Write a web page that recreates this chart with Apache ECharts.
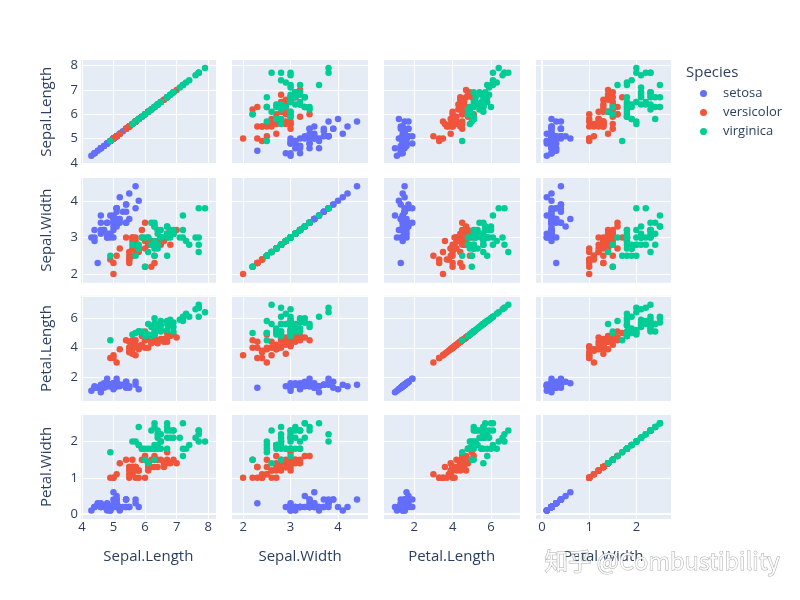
<!DOCTYPE html>
<html>
<head>
<meta charset="utf-8">
<script src="https://cdn.jsdelivr.net/npm/echarts@6/dist/echarts.min.js"></script>
<style>
  html, body { margin: 0; padding: 0; background: #fff; }
  #main { width: 800px; height: 600px; }
</style>
</head>
<body>
<div id="main"></div>
<script>
// iris 数据, 按品种分开
var dims = ['Sepal.Length', 'Sepal.Width', 'Petal.Length', 'Petal.Width'];
var speciesNames = ['setosa', 'versicolor', 'virginica'];

var setosaSL = [5.1,4.9,4.7,4.6,5.0,5.4,4.6,5.0,4.4,4.9,5.4,4.8,4.8,4.3,5.8,5.7,5.4,5.1,5.7,5.1,5.4,5.1,4.6,5.1,4.8,5.0,5.0,5.2,5.2,4.7,4.8,5.4,5.2,5.5,4.9,5.0,5.5,4.9,4.4,5.1,5.0,4.5,4.4,5.0,5.1,4.8,5.1,4.6,5.3,5.0];
var setosaSW = [3.5,3.0,3.2,3.1,3.6,3.9,3.4,3.4,2.9,3.1,3.7,3.4,3.0,3.0,4.0,4.4,3.9,3.5,3.8,3.8,3.4,3.7,3.6,3.3,3.4,3.0,3.4,3.5,3.4,3.2,3.1,3.4,4.1,4.2,3.1,3.2,3.5,3.6,3.0,3.4,3.5,2.3,3.2,3.5,3.8,3.0,3.8,3.2,3.7,3.3];
var setosaPL = [1.4,1.4,1.3,1.5,1.4,1.7,1.4,1.5,1.4,1.5,1.5,1.6,1.4,1.1,1.2,1.5,1.3,1.4,1.7,1.5,1.7,1.5,1.0,1.7,1.9,1.6,1.6,1.5,1.4,1.6,1.6,1.5,1.5,1.4,1.5,1.2,1.3,1.4,1.3,1.5,1.3,1.3,1.3,1.6,1.9,1.4,1.6,1.4,1.5,1.4];
var setosaPW = [0.2,0.2,0.2,0.2,0.2,0.4,0.3,0.2,0.2,0.1,0.2,0.2,0.1,0.1,0.2,0.4,0.4,0.3,0.3,0.3,0.2,0.4,0.2,0.5,0.2,0.2,0.4,0.2,0.2,0.2,0.2,0.4,0.1,0.2,0.2,0.2,0.2,0.1,0.2,0.2,0.3,0.3,0.2,0.6,0.4,0.3,0.2,0.2,0.2,0.2];

var versicolorSL = [7.0,6.4,6.9,5.5,6.5,5.7,6.3,4.9,6.6,5.2,5.0,5.9,6.0,6.1,5.6,6.7,5.6,5.8,6.2,5.6,5.9,6.1,6.3,6.1,6.4,6.6,6.8,6.7,6.0,5.7,5.5,5.5,5.8,6.0,5.4,6.0,6.7,6.3,5.6,5.5,5.5,6.1,5.8,5.0,5.6,5.7,5.7,6.2,5.1,5.7];
var versicolorSW = [3.2,3.2,3.1,2.3,2.8,2.8,3.3,2.4,2.9,2.7,2.0,3.0,2.2,2.9,2.9,3.1,3.0,2.7,2.2,2.5,3.2,2.8,2.5,2.8,2.9,3.0,2.8,3.0,2.9,2.6,2.4,2.4,2.7,2.7,3.0,3.4,3.1,2.3,3.0,2.5,2.6,3.0,2.6,2.3,2.7,3.0,2.9,2.9,2.5,2.8];
var versicolorPL = [4.7,4.5,4.9,4.0,4.6,4.5,4.7,3.3,4.6,3.9,3.5,4.2,4.0,4.7,3.6,4.4,4.5,4.1,4.5,3.9,4.8,4.0,4.9,4.7,4.3,4.4,4.8,5.0,4.5,3.5,3.8,3.7,3.9,5.1,4.5,4.5,4.7,4.4,4.1,4.0,4.4,4.6,4.0,3.3,4.2,4.2,4.2,4.3,3.0,4.1];
var versicolorPW = [1.4,1.5,1.5,1.3,1.5,1.3,1.6,1.0,1.3,1.4,1.0,1.5,1.0,1.4,1.3,1.4,1.5,1.0,1.5,1.1,1.8,1.3,1.5,1.2,1.3,1.4,1.4,1.7,1.5,1.0,1.1,1.0,1.2,1.6,1.5,1.6,1.5,1.3,1.3,1.3,1.2,1.4,1.2,1.0,1.3,1.2,1.3,1.3,1.1,1.3];

var virginicaSL = [6.3,5.8,7.1,6.3,6.5,7.6,4.9,7.3,6.7,7.2,6.5,6.4,6.8,5.7,5.8,6.4,6.5,7.7,7.7,6.0,6.9,5.6,7.7,6.3,6.7,7.2,6.2,6.1,6.4,7.2,7.4,7.9,6.4,6.3,6.1,7.7,6.3,6.4,6.0,6.9,6.7,6.9,5.8,6.8,6.7,6.7,6.3,6.5,6.2,5.9];
var virginicaSW = [3.3,2.7,3.0,2.9,3.0,3.0,2.5,2.9,2.5,3.6,3.2,2.7,3.0,2.5,2.8,3.2,3.0,3.8,2.6,2.2,3.2,2.8,2.8,2.7,3.3,3.2,2.8,3.0,2.8,3.0,2.8,3.8,2.8,2.8,2.6,3.0,3.4,3.1,3.0,3.1,3.1,3.1,2.7,3.2,3.3,3.0,2.5,3.0,3.4,3.0];
var virginicaPL = [6.0,5.1,5.9,5.6,5.8,6.6,4.5,6.3,5.8,6.1,5.1,5.3,5.5,5.0,5.1,5.3,5.5,6.7,6.9,5.0,5.7,4.9,6.7,4.9,5.7,6.0,4.8,4.9,5.6,5.8,6.1,6.4,5.6,5.1,5.6,6.1,5.6,5.5,4.8,5.4,5.6,5.1,5.1,5.9,5.7,5.2,5.0,5.2,5.4,5.1];
var virginicaPW = [2.5,1.9,2.1,1.8,2.2,2.1,1.7,1.8,1.8,2.5,2.0,1.9,2.1,2.0,2.4,2.3,1.8,2.2,2.3,1.5,2.3,2.0,2.0,1.8,2.1,1.8,1.8,1.8,2.1,1.6,1.9,2.0,2.2,1.5,1.4,2.3,2.4,1.8,1.8,2.1,2.4,2.3,1.9,2.3,2.5,2.3,1.9,2.0,2.3,1.8];

// 刻度标签
var ticksSL = [4, 5, 6, 7, 8];
var ticksSW = [2, 3, 4];
var ticksPL = [2, 4, 6];
var ticksPW = [0, 1, 2];

var speciesData = [
    [setosaSL, setosaSW, setosaPL, setosaPW],
    [versicolorSL, versicolorSW, versicolorPL, versicolorPW],
    [virginicaSL, virginicaSW, virginicaPL, virginicaPW]
];
var dimTicks = [ticksSL, ticksSW, ticksPL, ticksPW];
// 坐标范围 (带 plotly 那样的留白)
var dimRange = [[3.94, 8.27], [1.76, 4.64], [0.39, 7.51], [-0.15, 2.75]];
var dimStep = [1, 1, 2, 1];
var colors = ['#636efa', '#EF553B', '#00cc96'];

var colLeft = [80, 231.7, 383.3, 535];
var rowTop = [59, 177.4, 295.8, 414.2];
var cellW = 136.7, cellH = 105.4;
var tickColor = '#2a3f5f';
var fontFamily = '"Open Sans", "Noto Sans", sans-serif';

var grids = [], xAxes = [], yAxes = [], series = [];

function tickFormatter(d) {
    return function (v) {
        var list = dimTicks[d];
        for (var i = 0; i < list.length; i++) {
            if (Math.abs(list[i] - v) < 1e-6) return String(list[i]);
        }
        return '';
    };
}

for (var r = 0; r < 4; r++) {
    for (var c = 0; c < 4; c++) {
        var gi = r * 4 + c;
        grids.push({
            left: colLeft[c], top: rowTop[r], width: cellW, height: cellH,
            show: true, backgroundColor: '#E5ECF6', borderWidth: 0
        });
        xAxes.push({
            type: 'value', gridIndex: gi,
            min: dimRange[c][0], max: dimRange[c][1],
            minInterval: dimStep[c], maxInterval: dimStep[c],
            name: r === 3 ? dims[c] : '',
            nameLocation: 'middle', nameGap: 30,
            nameTextStyle: { color: tickColor, fontSize: 15, fontFamily: fontFamily },
            axisLine: { show: r === 3, onZero: true, lineStyle: { color: '#fff', width: 2 } },
            axisTick: { show: false },
            axisLabel: { show: r === 3, margin: 1, color: tickColor, fontSize: 13, fontFamily: fontFamily, formatter: tickFormatter(c) },
            splitLine: { show: true, lineStyle: { color: '#fff', width: 1 } }
        });
        yAxes.push({
            type: 'value', gridIndex: gi,
            min: dimRange[r][0], max: dimRange[r][1],
            minInterval: dimStep[r], maxInterval: dimStep[r],
            name: c === 0 ? dims[r] : '',
            nameLocation: 'middle', nameGap: 26,
            nameTextStyle: { color: tickColor, fontSize: 15, fontFamily: fontFamily },
            axisLine: { show: c === 3, onZero: true, lineStyle: { color: '#fff', width: 2 } },
            axisTick: { show: false },
            axisLabel: { show: c === 0, margin: 2, color: tickColor, fontSize: 13, fontFamily: fontFamily, formatter: tickFormatter(r) },
            splitLine: { show: true, lineStyle: { color: '#fff', width: 1 } }
        });
        for (var s = 0; s < 3; s++) {
            var xs = speciesData[s][c], ys = speciesData[s][r];
            var pts = [];
            for (var k = 0; k < xs.length; k++) pts.push([xs[k], ys[k]]);
            series.push({
                name: speciesNames[s], type: 'scatter',
                xAxisIndex: gi, yAxisIndex: gi,
                data: pts, symbolSize: 6.5,
                itemStyle: { color: colors[s], opacity: 1 },
                emphasis: { disabled: true },
                animation: false
            });
        }
    }
}

var myChart = echarts.init(document.getElementById('main'));
var option = {
    backgroundColor: '#fff',
    animation: false,
    grid: grids,
    xAxis: xAxes,
    yAxis: yAxes,
    legend: {
        data: speciesNames,
        orient: 'vertical',
        left: 700, top: 87, padding: 0,
        icon: 'circle',
        itemWidth: 7, itemHeight: 7, itemGap: 6,
        textStyle: { color: tickColor, fontSize: 13, fontFamily: fontFamily, lineHeight: 13, padding: [0, 0, 0, 11] }
    },
    graphic: [
        {
            type: 'text', left: 686, top: 65,
            style: { text: 'Species', fill: tickColor, font: '15px "Open Sans", sans-serif' }
        },
        {
            type: 'text', left: 544, top: 549, z: 100,
            style: {
                text: '知乎 @Combustibility',
                fill: 'rgba(255,255,255,0.9)',
                stroke: 'rgba(150,150,150,0.8)', lineWidth: 1,
                font: '23.5px "Noto Sans CJK SC", "Noto Sans", sans-serif'
            }
        }
    ],
    series: series
};
myChart.setOption(option);
</script>
</body>
</html>
